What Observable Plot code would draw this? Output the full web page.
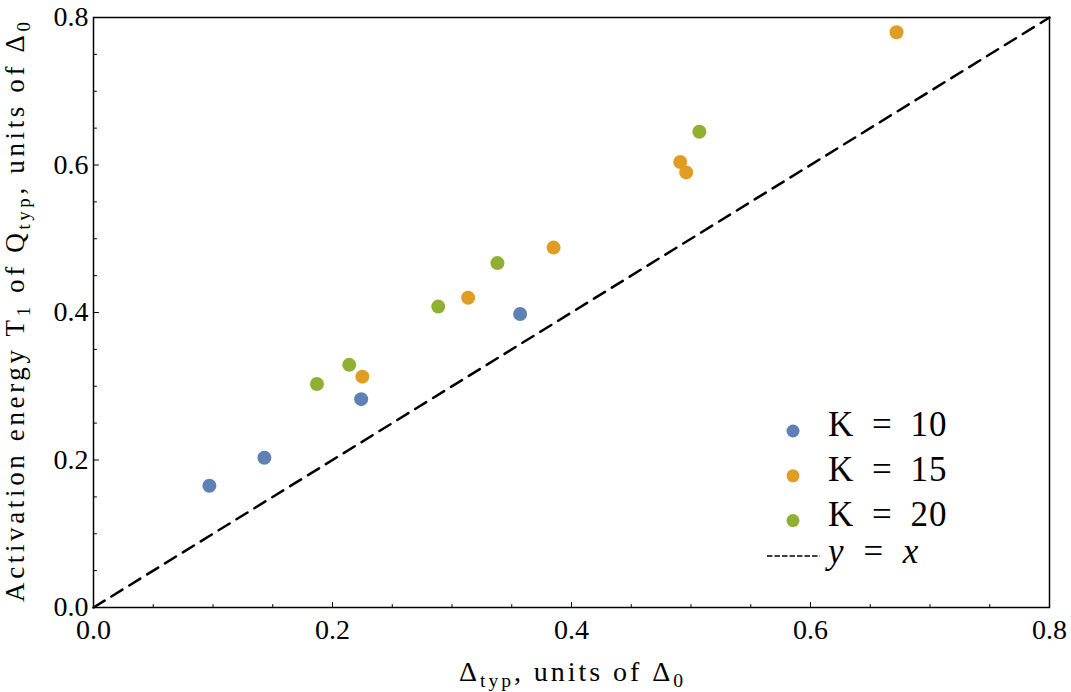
<!DOCTYPE html>
<html><head><meta charset="utf-8">
<script src="https://cdn.jsdelivr.net/npm/d3@7"></script>
<script src="https://cdn.jsdelivr.net/npm/@observablehq/plot@0.6"></script>
<style>
body{margin:0;background:#fff;}
#chart{position:relative;width:1071px;height:692px;}
</style></head><body><div id="chart"></div>
<script>
// ---- data ----
const k10_x = [0.097, 0.143, 0.224, 0.357];
const k10_y = [0.165, 0.203, 0.2825, 0.398];
const k15_x = [0.225, 0.3135, 0.385, 0.491, 0.496, 0.672];
const k15_y = [0.313, 0.420, 0.488, 0.604, 0.590, 0.780];
const k20_x = [0.187, 0.214, 0.2885, 0.338, 0.507];
const k20_y = [0.303, 0.329, 0.408, 0.467, 0.645];
const seriesNames = ["K = 10", "K = 15", "K = 20"];
const seriesColors = ["#5E81B5", "#E19C24", "#8FB032"];
const axisDomain = [0, 0.8];
const majorTicks = [0, 0.2, 0.4, 0.6, 0.8];
const minorTicks = [0.05, 0.1, 0.15, 0.25, 0.3, 0.35, 0.45, 0.5, 0.55, 0.65, 0.7, 0.75];
const refLineName = "y = x";

// ---- build table ----
const seriesX = [k10_x, k15_x, k20_x];
const seriesY = [k10_y, k15_y, k20_y];
const points = [];
seriesNames.forEach((k, i) => seriesX[i].forEach((x, j) => points.push({k, x, y: seriesY[i][j]})));
const diag = axisDomain.map(v => ({x: v, y: v}));

const FF = "Tinos";
const tickShape = {draw(ctx, l) { ctx.moveTo(0, 0); ctx.lineTo(0, -l); }};
const fmt = d3.format(".1f");

const chart = Plot.plot({
  width: 1071, height: 692,
  marginLeft: 93, marginRight: 22, marginTop: 17, marginBottom: 85,
  x: {domain: axisDomain},
  y: {domain: axisDomain},
  color: {domain: seriesNames, range: seriesColors},
  style: {fontFamily: FF, fontSize: "28px", background: "white", color: "black"},
  marks: [
    Plot.axisX(majorTicks, {tickSize: 0, tickPadding: 12, tickFormat: fmt, fontSize: 28, fontFamily: FF, label: null}),
    Plot.axisY(majorTicks, {tickSize: 0, tickPadding: 5, tickFormat: fmt, fontSize: 28, fontFamily: FF, label: null}),
    Plot.vector(majorTicks, {x: d => d, y: () => 0, length: 5, rotate: 0, anchor: "start", shape: tickShape, stroke: "black", strokeWidth: 1}),
    Plot.vector(minorTicks, {x: d => d, y: () => 0, length: 3, rotate: 0, anchor: "start", shape: tickShape, stroke: "black", strokeWidth: 1}),
    Plot.vector(majorTicks, {y: d => d, x: () => 0, length: 5, rotate: 90, anchor: "start", shape: tickShape, stroke: "black", strokeWidth: 1}),
    Plot.vector(minorTicks, {y: d => d, x: () => 0, length: 3, rotate: 90, anchor: "start", shape: tickShape, stroke: "black", strokeWidth: 1}),
    Plot.line(diag, {x: "x", y: "y", stroke: "black", strokeWidth: 2.5, strokeDasharray: "13,8"}),
    Plot.dot(points, {x: "x", y: "y", fill: "k", r: 7}),
    Plot.frame({stroke: "black", strokeWidth: 1.5})
  ]
});
document.getElementById("chart").appendChild(chart);

// ---- labels & legend ----
const svg = d3.select(chart);
const xr = chart.scale("x").range;
const yr = chart.scale("y").range; // [bottom, top]

function richText(g, parts, size) {
  const t = g.append("text").style("font-family", FF).attr("font-size", size).attr("fill", "black");
  let shifted = false;
  parts.forEach(([s, sub]) => {
    const ts = t.append("tspan").text(s);
    if (sub && !shifted) { ts.attr("dy", 6).attr("font-size", size * 0.7); shifted = true; }
    else if (sub) { ts.attr("font-size", size * 0.7); }
    else if (shifted) { ts.attr("dy", -6); shifted = false; }
  });
  return t;
}

richText(svg.append("g"), [["Δ"], ["typ", 1], [", units of Δ"], ["0", 1]], 28)
  .attr("x", (xr[0] + xr[1]) / 2).attr("y", yr[0] + 74).attr("text-anchor", "middle")
  .attr("textLength", 224).attr("lengthAdjust", "spacing");

richText(svg.append("g"), [["Activation energy T"], ["1", 1], [" of Q"], ["typ", 1], [", units of Δ"], ["0", 1]], 27)
  .attr("text-anchor", "middle")
  .attr("transform", `translate(${xr[0] - 69},${(yr[0] + yr[1]) / 2}) rotate(-90)`)
  .attr("textLength", 580).attr("lengthAdjust", "spacing");

const leg = svg.append("g");
const lx = xr[1] - 256, ltx = xr[1] - 221;
seriesNames.forEach((name, i) => {
  const cy = yr[0] - 176 + i * 44.8;
  leg.append("circle").attr("cx", lx).attr("cy", cy).attr("r", 6.5).attr("fill", seriesColors[i]);
  leg.append("text").attr("x", ltx).attr("y", cy + 5).style("font-family", FF).attr("font-size", 35)
    .attr("text-anchor", "start").style("word-spacing", "8px").style("letter-spacing", "1px").text(name);
});
const ly = yr[0] - 51;
leg.append("line").attr("x1", xr[1] - 282).attr("x2", xr[1] - 229).attr("y1", ly).attr("y2", ly)
  .attr("stroke", "black").attr("stroke-width", 1.5).attr("stroke-dasharray", "5.5,2");
leg.append("text").attr("x", ltx).attr("y", ly + 7).style("font-family", FF).attr("font-size", 35)
  .attr("font-style", "italic").attr("text-anchor", "start").style("word-spacing", "9px").text(refLineName);
</script></body></html>
